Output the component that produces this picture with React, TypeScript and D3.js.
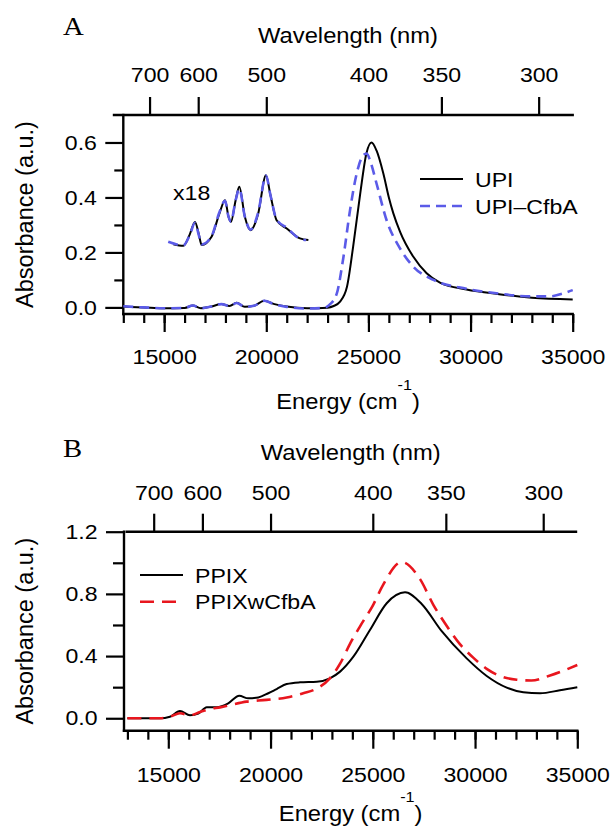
import React, { useEffect, useRef } from "react";
import * as d3 from "d3";

type Pt = [number, number];

// energy axis ticks (cm^-1) and the wavelength labels for the top axis (nm)
const energyTicks = [15000, 20000, 25000, 30000, 35000];
const energyMinor = d3.range(13000, 35001, 1000);
const wavelengthTicks = [700, 600, 500, 400, 350, 300];

const absTicksA = [0, 0.2, 0.4, 0.6];
const absMinorA = [0.1, 0.3, 0.5];
const absTicksB = [0, 0.4, 0.8, 1.2];
const absMinorB = [0.2, 0.6, 1.0];

// panel A - UPI
const upi: Pt[] = [
  [13000, 0.003], [14000, 0.0], [15000, -0.003], [16000, -0.002], [16400, 0.007],
  [16800, -0.003], [17300, 0.003], [17800, 0.012], [18200, 0.005], [18550, 0.017],
  [18950, 0.002], [19400, 0.006], [19900, 0.024], [20400, 0.012], [21000, 0.003],
  [22000, -0.003], [23000, -0.001], [23300, 0.005], [23600, 0.02], [23950, 0.075],
  [24250, 0.22], [24600, 0.415], [24900, 0.56], [25150, 0.6], [25400, 0.57],
  [25730, 0.487], [26000, 0.4], [26220, 0.342], [26550, 0.275], [27200, 0.184],
  [27850, 0.124], [28500, 0.09], [29800, 0.065], [31400, 0.048], [33000, 0.035],
  [35000, 0.029],
];
const upiCfbA: Pt[] = [
  [13000, 0.004], [14000, 0.0], [15000, -0.003], [16000, -0.002], [16400, 0.007],
  [16800, -0.003], [17300, 0.003], [17800, 0.012], [18200, 0.005], [18550, 0.016],
  [18950, 0.002], [19400, 0.006], [19900, 0.024], [20400, 0.011], [21000, 0.002],
  [22000, -0.004], [22800, -0.002], [23100, 0.01], [23450, 0.05], [23770, 0.18],
  [24100, 0.354], [24425, 0.487], [24750, 0.554], [24920, 0.56], [25100, 0.53],
  [25400, 0.45], [25890, 0.317], [26545, 0.215], [27200, 0.148], [28180, 0.1],
  [29800, 0.068], [31400, 0.05], [33000, 0.04], [33900, 0.04], [34500, 0.05],
  [35000, 0.063],
];
// magnified (x18) Q-band region, drawn as an inset
const upiInset: Pt[] = [
  [15450, 0.23], [15940, 0.224], [16250, 0.265], [16510, 0.311], [16700, 0.265],
  [16835, 0.227], [17320, 0.257], [17700, 0.34], [17980, 0.39], [18150, 0.33],
  [18270, 0.311], [18500, 0.39], [18680, 0.439], [18950, 0.33], [19235, 0.281],
  [19600, 0.34], [19985, 0.481], [20200, 0.41], [20505, 0.317], [21000, 0.287],
  [21650, 0.251], [22060, 0.245],
];
const upiCfbAInset: Pt[] = [
  [15200, 0.239], [15940, 0.226], [16250, 0.262], [16510, 0.308], [16700, 0.262],
  [16835, 0.229], [17320, 0.259], [17700, 0.345], [17980, 0.388], [18150, 0.33],
  [18270, 0.312], [18500, 0.39], [18680, 0.432], [18950, 0.33], [19235, 0.283],
  [19600, 0.345], [19985, 0.48], [20200, 0.41], [20505, 0.32], [21000, 0.29],
  [21650, 0.25], [21950, 0.245],
];

// panel B - PPIX
const ppix: Pt[] = [
  [13000, 0.0], [14590, 0.0], [15080, 0.01], [15570, 0.047], [16060, 0.019],
  [16470, 0.03], [16880, 0.071], [17370, 0.071], [17930, 0.096], [18470, 0.145],
  [18910, 0.128], [19400, 0.134], [19890, 0.161], [20300, 0.188], [20790, 0.22],
  [21440, 0.231], [22260, 0.235], [22900, 0.257], [23400, 0.3], [24050, 0.396],
  [24860, 0.568], [25680, 0.74], [26575, 0.81], [27390, 0.735], [28370, 0.56],
  [29590, 0.385], [30570, 0.272], [31550, 0.197], [32360, 0.167], [33180, 0.161],
  [34150, 0.18], [35000, 0.2],
];
const ppixCfbA: Pt[] = [
  [13000, 0.0], [14590, 0.0], [15080, 0.01], [15570, 0.032], [16060, 0.019],
  [16550, 0.04], [17040, 0.06], [17530, 0.07], [18180, 0.09], [18830, 0.107],
  [19800, 0.118], [20790, 0.134], [21600, 0.161], [22260, 0.191], [22900, 0.257],
  [23400, 0.351], [23890, 0.48], [24370, 0.59], [25020, 0.73], [25510, 0.86],
  [26410, 1.005], [27310, 0.895], [27960, 0.73], [28610, 0.595], [29260, 0.477],
  [29910, 0.39], [30570, 0.318], [31220, 0.272], [32040, 0.248], [32750, 0.243],
  [33670, 0.275], [35000, 0.343],
];

const SANS = "'Liberation Sans', Arial, Helvetica, sans-serif";
const SERIF = "'Liberation Serif', 'Times New Roman', serif";
const BLUE = "#5b5be8";
const RED = "#e8161e";
const STRETCH = 1.1;

interface Series { data: Pt[]; color: string; dash?: string; width: number }
interface Panel {
  letter: string;
  letterY: number;
  xRange: [number, number];
  yDomain: [number, number];
  yRange: [number, number];
  leftX: number;
  topFrom: number;
  topTo: number;
  yMajor: number[];
  yMinor: number[];
  yFmt: (v: number) => string;
  minorLen: number;
  topPad: number;
  bottomPad: number;
  wlTitleY: number;
  enTitleY: number;
  series: Series[];
  legend: { label: string; color: string; dash?: string; width: number; y: number }[];
  legendX: [number, number];
  legendTextX: number;
}

const panels: Panel[] = [
  {
    letter: "A", letterY: 35,
    xRange: [123.3, 572.7], yDomain: [-0.024, 0.7], yRange: [314, 115],
    leftX: 123.3, topFrom: 114, topTo: 572.7,
    yMajor: absTicksA, yMinor: absMinorA, yFmt: d3.format(".1f"), minorLen: 9,
    topPad: 15.3, bottomPad: 17, wlTitleY: 43, enTitleY: 409,
    series: [
      { data: upi, color: "#000", width: 2 },
      { data: upiInset, color: "#000", width: 2 },
      { data: upiCfbA, color: BLUE, dash: "10,6", width: 2.6 },
      { data: upiCfbAInset, color: BLUE, dash: "10,6", width: 2.6 },
    ],
    legend: [
      { label: "UPI", color: "#000", width: 2, y: 179 },
      { label: "UPI\u2013CfbA", color: BLUE, dash: "10,6", width: 2.6, y: 206 },
    ],
    legendX: [420, 463], legendTextX: 475,
  },
  {
    letter: "B", letterY: 457,
    xRange: [127.4, 577.3], yDomain: [-0.08, 1.2], yRange: [730.7, 531.7],
    leftX: 124, topFrom: 126.7, topTo: 576,
    yMajor: absTicksB, yMinor: absMinorB, yFmt: d3.format(".1f"), minorLen: 11,
    topPad: 13.7, bottomPad: 18, wlTitleY: 460, enTitleY: 821,
    series: [
      { data: ppix, color: "#000", width: 2 },
      { data: ppixCfbA, color: RED, dash: "14,8", width: 2.6 },
    ],
    legend: [
      { label: "PPIX", color: "#000", width: 2, y: 575 },
      { label: "PPIXwCfbA", color: RED, dash: "14,8", width: 2.6, y: 601.7 },
    ],
    legendX: [140, 183], legendTextX: 195,
  },
];

function drawPanel(svg: d3.Selection<SVGSVGElement, unknown, null, undefined>, p: Panel) {
  const x = d3.scaleLinear().domain([13000, 35000]).range(p.xRange);
  const y = d3.scaleLinear().domain(p.yDomain).range(p.yRange);
  const [yBot, yTop] = p.yRange;
  const right = p.xRange[1];
  const g = svg.append("g");

  const styleAxis = (ag: d3.Selection<SVGGElement, unknown, null, undefined>) => {
    ag.select(".domain").remove();
    ag.selectAll("line").attr("stroke", "#000").attr("stroke-width", 2.2);
    ag.selectAll("text")
      .attr("fill", "#000")
      .attr("font-family", SANS)
      .attr("font-size", 21);
  };

  // bottom energy axis
  const bMinor = g.append("g").attr("transform", `translate(0,${yBot})`)
    .call(d3.axisBottom(x).tickValues(energyMinor).tickSize(9).tickFormat(() => ""));
  styleAxis(bMinor);
  const bMajor = g.append("g").attr("transform", `translate(0,${yBot})`)
    .call(d3.axisBottom(x).tickValues(energyTicks).tickSize(18).tickPadding(p.bottomPad)
      .tickFormat((d) => String(d)));
  styleAxis(bMajor);
  bMajor.selectAll("text").attr("transform", `scale(${STRETCH},1)`);

  // top wavelength axis
  const tAxis = g.append("g").attr("transform", `translate(0,${yTop})`)
    .call(d3.axisTop(x).tickValues(wavelengthTicks.map((nm) => 1e7 / nm)).tickSize(18)
      .tickPadding(p.topPad).tickFormat((d) => String(Math.round(1e7 / (d as number)))));
  styleAxis(tAxis);
  tAxis.selectAll("text").attr("transform", `scale(${STRETCH},1)`);

  // left absorbance axis
  const lMinor = g.append("g").attr("transform", `translate(${p.leftX},0)`)
    .call(d3.axisLeft(y).tickValues(p.yMinor).tickSize(p.minorLen).tickFormat(() => ""));
  styleAxis(lMinor);
  const lMajor = g.append("g").attr("transform", `translate(${p.leftX},0)`)
    .call(d3.axisLeft(y).tickValues(p.yMajor).tickSize(18).tickPadding(6)
      .tickFormat((d) => p.yFmt(d as number)));
  styleAxis(lMajor);
  lMajor.selectAll("text").attr("transform", `scale(${STRETCH},1)`);

  // frame lines
  const frame = [
    [p.leftX, yTop, p.leftX, yBot],
    [p.topFrom, yTop, p.topTo, yTop],
    [p.leftX, yBot, right, yBot],
  ];
  g.selectAll(".frame").data(frame).enter().append("line")
    .attr("x1", (d) => d[0]).attr("y1", (d) => d[1])
    .attr("x2", (d) => d[2]).attr("y2", (d) => d[3])
    .attr("stroke", "#000").attr("stroke-width", 2.4).attr("stroke-linecap", "square");

  // curves
  const line = d3.line<Pt>().x((d) => x(d[0])).y((d) => y(d[1])).curve(d3.curveMonotoneX);
  g.selectAll(".curve").data(p.series).enter().append("path")
    .attr("fill", "none")
    .attr("stroke", (d) => d.color)
    .attr("stroke-width", (d) => d.width)
    .attr("stroke-dasharray", (d) => d.dash ?? null)
    .attr("stroke-linejoin", "round")
    .attr("d", (d) => line(d.data));

  // legend
  const lg = g.selectAll(".leg").data(p.legend).enter().append("g");
  lg.append("line")
    .attr("x1", p.legendX[0]).attr("x2", p.legendX[1])
    .attr("y1", (d) => d.y).attr("y2", (d) => d.y)
    .attr("stroke", (d) => d.color).attr("stroke-width", (d) => d.width)
    .attr("stroke-dasharray", (d) => d.dash ?? null);
  lg.append("text")
    .attr("transform", (d) => `translate(${p.legendTextX},${d.y + 7.5}) scale(${STRETCH},1)`)
    .attr("font-family", SANS).attr("font-size", 21)
    .text((d) => d.label);

  // titles
  const cx = (p.leftX + right) / 2;
  g.append("text")
    .attr("transform", `translate(63,${p.letterY}) scale(1.15,1)`)
    .attr("font-family", SERIF).attr("font-size", 25)
    .text(p.letter);
  g.append("text")
    .attr("transform", `translate(${cx},${p.wlTitleY}) scale(1.08,1)`)
    .attr("text-anchor", "middle").attr("font-family", SANS).attr("font-size", 22)
    .text("Wavelength (nm)");
  const en = g.append("text")
    .attr("transform", `translate(${cx},${p.enTitleY}) scale(1.08,1)`)
    .attr("text-anchor", "middle").attr("font-family", SANS).attr("font-size", 22);
  en.append("tspan").text("Energy (cm");
  en.append("tspan").attr("dy", -19).attr("font-size", 15).text("-1");
  en.append("tspan").attr("dy", 19).text(")");
  g.append("text")
    .attr("transform", `translate(33,${(yTop + yBot) / 2}) rotate(-90)`)
    .attr("text-anchor", "middle").attr("font-family", SANS).attr("font-size", 23.5)
    .text("Absorbance (a.u.)");
}

const App = () => {
  const svgRef = useRef<SVGSVGElement>(null);

  useEffect(() => {
    const svg = d3.select(svgRef.current as SVGSVGElement);
    svg.selectAll("*").remove();
    svg.append("rect").attr("width", 611).attr("height", 828).attr("fill", "#fff");
    panels.forEach((p) => drawPanel(svg, p));
    // inset magnification label
    svg.append("text")
      .attr("transform", `translate(173,200) scale(${STRETCH},1)`)
      .attr("font-family", SANS).attr("font-size", 21)
      .text("x18");
  }, []);

  return (
    <svg
      ref={svgRef}
      width={611}
      height={828}
      style={{ position: "absolute", left: 0, top: 0 }}
    />
  );
};

export default App;
